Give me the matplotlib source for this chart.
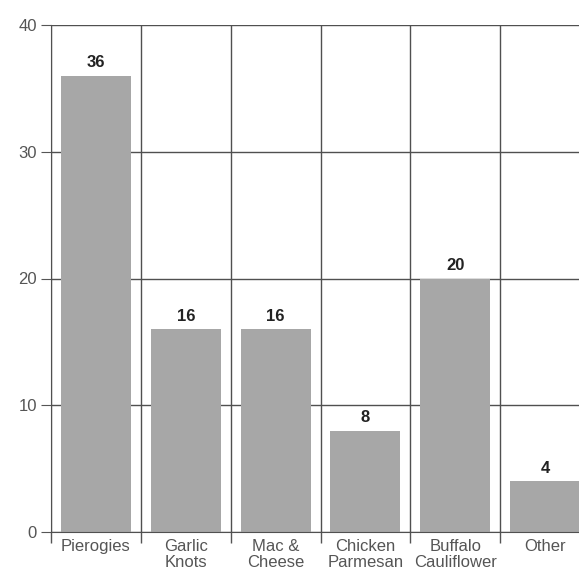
import matplotlib.pyplot as plt
import numpy as np

plt.rcParams["font.family"] = ["Liberation Sans", "DejaVu Sans"]

categories = ["Pierogies", "Garlic\nKnots", "Mac &\nCheese", "Chicken\nParmesan",
              "Buffalo\nCauliflower", "Other"]
values = [36, 16, 16, 8, 20, 4]

fig = plt.figure(figsize=(5.79, 5.73), dpi=100)
# axes run past the right edge, like the cropped original
ax = fig.add_axes([51 / 579, 41 / 573, 539 / 579, 507 / 573])

x = np.arange(len(categories))
bars = ax.bar(x, values, width=0.78, color="#a7a7a7", zorder=2)

for xi, v in zip(x, values):
    ax.annotate(str(v), (xi, v), xytext=(0, 4), textcoords="offset points",
                ha="center", va="bottom", fontsize=12, fontweight="bold", color="#222222")

ax.set_xlim(-0.5, len(categories) - 0.5)
ax.set_ylim(0, 40)

# grid on category boundaries and y ticks
bounds = np.arange(-0.5, len(categories) + 0.5, 1)
ax.set_xticks(bounds)
ax.set_xticklabels([])
ax.set_xticks(x, minor=True)
ax.set_xticklabels(categories, minor=True, fontsize=12, color="#555555", linespacing=1.05)
ax.tick_params(axis="x", which="minor", length=0, pad=5)
ax.tick_params(axis="x", which="major", length=8, color="#555555", width=1)
ax.set_yticks([0, 10, 20, 30, 40])
ax.tick_params(axis="y", length=7, color="#555555", labelsize=12, labelcolor="#555555", pad=3)

ax.grid(True, which="major", color="#505050", linewidth=1, zorder=0)
for side in ["top", "right"]:
    ax.spines[side].set_visible(False)
ax.spines["left"].set_color("#505050")
ax.spines["bottom"].set_color("#505050")

fig.savefig("out.png", dpi=100)
